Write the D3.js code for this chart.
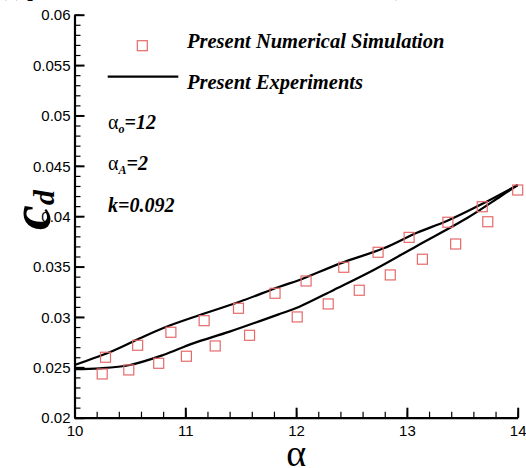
<!DOCTYPE html>
<html>
<head>
<meta charset="utf-8">
<script src="https://cdn.jsdelivr.net/npm/d3@7"></script>
<style>
  body { margin: 0; background: #fff; }
  svg { display: block; }
</style>
</head>
<body>
<svg id="chart"></svg>
<script>
const WIDTH = 526;
const HEIGHT = 468;

// numerical simulation (squares)
const simAlpha = [10.25, 10.28, 10.49, 10.57, 10.76, 10.87, 11.01, 11.17, 11.27, 11.48, 11.58, 11.81,
                  12.01, 12.09, 12.29, 12.43, 12.57, 12.74, 12.85, 13.02, 13.14, 13.37, 13.44, 13.68, 13.73, 14.0];
const simCd = [0.02434, 0.0260, 0.02474, 0.02719, 0.0254, 0.02848, 0.0261, 0.02963, 0.02712, 0.03086, 0.02818, 0.03235,
               0.0300, 0.03357, 0.03129, 0.03493, 0.03265, 0.03642, 0.03417, 0.0379, 0.03573, 0.0394, 0.03724, 0.04094, 0.03945, 0.0426];

// experiments, upper branch
const expUpAlpha = [10, 10.35, 10.59, 10.83, 11.13, 11.49, 11.85, 12.03, 12.40, 12.79, 13.09, 13.36, 13.69, 14.0];
const expUpCd = [0.02523, 0.02665, 0.02788, 0.02903, 0.03019, 0.03151, 0.0330, 0.03367, 0.03532, 0.03681, 0.03836, 0.03952, 0.04128, 0.0431];
// experiments, lower branch
const expLoAlpha = [10, 10.23, 10.50, 10.80, 11.07, 11.40, 11.85, 12.03, 12.34, 12.70, 13.09, 13.54, 13.84, 14.0];
const expLoCd = [0.02483, 0.0249, 0.02523, 0.02622, 0.02738, 0.02854, 0.03029, 0.03102, 0.03268, 0.03466, 0.03705, 0.03979, 0.04193, 0.0431];

const xTicks = [10, 11, 12, 13, 14];
const yTicks = [0.02, 0.025, 0.03, 0.035, 0.04, 0.045, 0.05, 0.055, 0.06];

const svg = d3.select('#chart')
    .attr('width', WIDTH)
    .attr('height', HEIGHT);

const xScale = d3.scaleLinear().domain([10, 14]).range([74.5, 517.7]);
const yScale = d3.scaleLinear().domain([0.02, 0.06]).range([417.7, 14.7]);

// title, only its bottom edge shows
svg.append('text').attr('x', 0).attr('y', -4)
    .style('font', 'bold 20px "Liberation Serif"').text('(c) p');
svg.append('text').attr('x', 395).attr('y', -4)
    .style('font', 'bold 20px "Liberation Serif"').text(')');

// minor ticks
svg.append('g')
    .attr('transform', 'translate(0,' + yScale(0.02) + ')')
    .call(d3.axisBottom(xScale).tickValues(d3.range(10, 14.01, 0.2)).tickSize(-6).tickFormat(''))
    .call(g => g.select('.domain').remove())
    .call(g => g.selectAll('line').attr('stroke-width', 1.2));
svg.append('g')
    .attr('transform', 'translate(' + xScale(10) + ',0)')
    .call(d3.axisLeft(yScale).tickValues(d3.range(0.02, 0.0601, 0.001)).tickSize(-6).tickFormat(''))
    .call(g => g.select('.domain').remove())
    .call(g => g.selectAll('line').attr('stroke-width', 1.2));

// major ticks + labels
const bottomAxis = svg.append('g')
    .attr('transform', 'translate(0,' + yScale(0.02) + ')')
    .call(d3.axisBottom(xScale).tickValues(xTicks).tickSize(-10).tickSizeOuter(0).tickPadding(5).tickFormat(d3.format('d')));
const leftAxis = svg.append('g')
    .attr('transform', 'translate(' + xScale(10) + ',0)')
    .call(d3.axisLeft(yScale).tickValues(yTicks).tickSize(-10).tickSizeOuter(0).tickPadding(4).tickFormat(d => String(+d.toFixed(3))));

[bottomAxis, leftAxis].forEach(function(g) {
    g.select('.domain').attr('stroke-width', 2.2);
    g.selectAll('.tick line').attr('stroke-width', 2);
    g.selectAll('text').style('font-family', '"Liberation Sans", Arial, sans-serif').style('font-size', '15px').attr('fill', '#000');
});
bottomAxis.selectAll('text').attr('dy', '0.9em');
leftAxis.selectAll('text').attr('dy', '0.35em');

// experiment lines
const line = d3.line()
    .x(d => xScale(d[0]))
    .y(d => yScale(d[1]))
    .curve(d3.curveCatmullRom);

svg.append('path')
    .datum(d3.zip(expUpAlpha, expUpCd))
    .attr('d', line)
    .attr('fill', 'none').attr('stroke', '#000').attr('stroke-width', 2.2);
svg.append('path')
    .datum(d3.zip(expLoAlpha, expLoCd))
    .attr('d', line)
    .attr('fill', 'none').attr('stroke', '#000').attr('stroke-width', 2.2);

// simulation squares
const SQ = 10;
svg.append('g').selectAll('rect')
    .data(d3.zip(simAlpha, simCd))
    .enter()
    .append('rect')
    .attr('x', d => xScale(d[0]) - SQ / 2)
    .attr('y', d => yScale(d[1]) - SQ / 2)
    .attr('width', SQ).attr('height', SQ)
    .attr('fill', 'none').attr('stroke', '#e66a6a').attr('stroke-width', 1.2);

// legend
const legendFont = 'italic bold 20.5px "Liberation Serif"';
svg.append('rect').attr('x', 137.3).attr('y', 40.7).attr('width', SQ).attr('height', SQ)
    .attr('fill', 'none').attr('stroke', '#e66a6a').attr('stroke-width', 1.2);
svg.append('text').attr('x', 187).attr('y', 48).style('font', legendFont)
    .text('Present Numerical Simulation');
svg.append('line').attr('x1', 107.7).attr('x2', 178.3).attr('y1', 76.7).attr('y2', 76.7)
    .attr('stroke', '#000').attr('stroke-width', 2.2);
svg.append('text').attr('x', 187).attr('y', 88.5).style('font', legendFont)
    .text('Present Experiments');

// parameters
const annFont = 'italic bold 20px "Liberation Serif"';
function alphaLabel(y, sub, rest) {
    const t = svg.append('text').attr('x', 108).attr('y', y).style('font', annFont);
    t.append('tspan').style('font-style', 'normal').style('font-weight', 'normal').text('α');
    t.append('tspan').attr('dy', 4).style('font-size', '12px').text(sub);
    t.append('tspan').attr('dy', -4).text(rest);
}
alphaLabel(129, 'o', '=12');
alphaLabel(170, 'A', '=2');
svg.append('text').attr('x', 108).attr('y', 211.5).style('font', annFont).text('k=0.092');

// axis titles
svg.append('text')
    .attr('x', xScale(12)).attr('y', 466)
    .attr('text-anchor', 'middle')
    .style('font', '38px "Liberation Serif"')
    .text('α');
const yTitle = svg.append('text')
    .attr('transform', 'translate(50,210) rotate(-90)')
    .attr('text-anchor', 'middle')
    .style('font', 'italic bold 56px "Liberation Serif"');
yTitle.append('tspan').text('c');
yTitle.append('tspan').attr('dy', 4).style('font-size', '30px').text('d');
</script>
</body>
</html>
